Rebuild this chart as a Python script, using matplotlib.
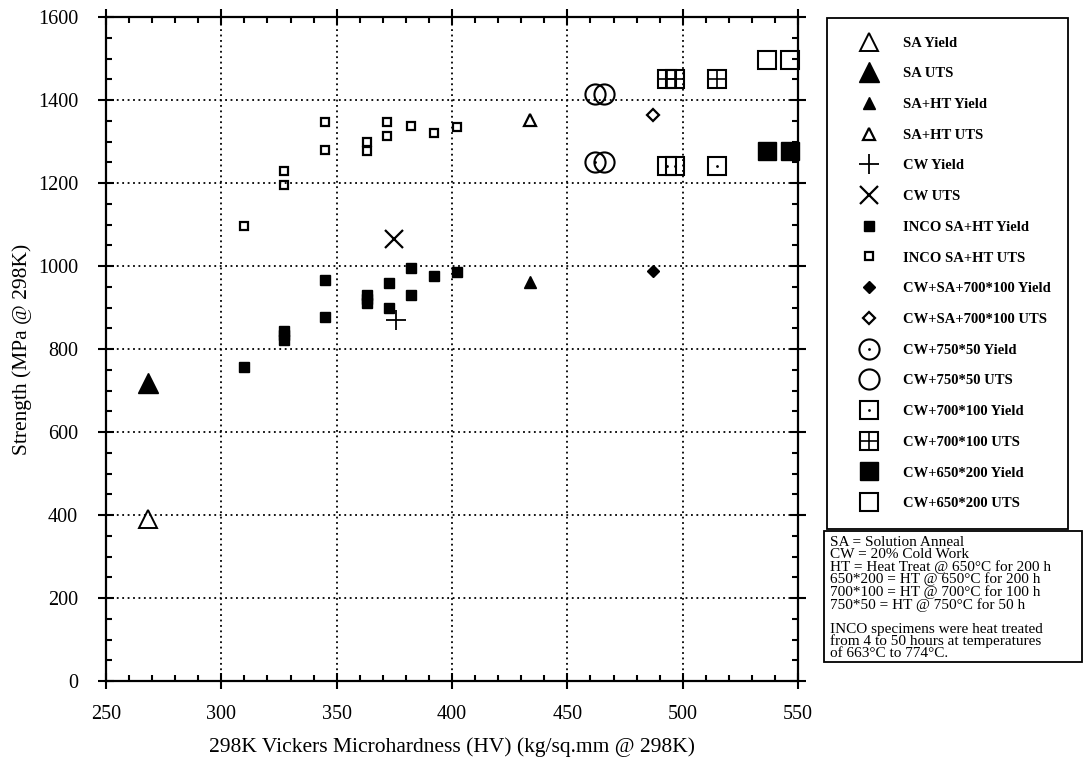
import matplotlib.pyplot as plt
from matplotlib.patches import Rectangle
from matplotlib.ticker import MultipleLocator

plt.rcParams['font.family'] = ['Liberation Serif', 'DejaVu Serif']

# hardness (HV) and strength (MPa)
sa_yield_hv = [268]
sa_yield_mpa = [390]
sa_uts_hv = [268]
sa_uts_mpa = [717]
saht_yield_hv = [434]
saht_yield_mpa = [961]
saht_uts_hv = [434]
saht_uts_mpa = [1353]
cw_yield_hv = [375.5]
cw_yield_mpa = [869]
cw_uts_hv = [375]
cw_uts_mpa = [1066]
inco_yield_hv = [310, 327, 327, 327, 345, 345, 363, 363, 363, 372.5, 372.5, 382, 382, 392, 402]
inco_yield_mpa = [756, 822, 833, 844, 878, 966, 910, 920, 931, 900, 959, 929, 995, 977, 986]
inco_uts_hv = [310, 327, 327, 345, 345, 363, 363, 372, 372, 382, 392, 402]
inco_uts_mpa = [1097, 1196, 1229, 1280, 1346, 1278, 1298, 1314, 1346, 1338, 1320, 1334]
cwsa_yield_hv = [487]
cwsa_yield_mpa = [987]
cwsa_uts_hv = [487]
cwsa_uts_mpa = [1365]
cw750_yield_hv = [462, 466]
cw750_yield_mpa = [1250, 1250]
cw750_uts_hv = [462, 466]
cw750_uts_mpa = [1414, 1414]
cw700_yield_hv = [493, 496.5, 515]
cw700_yield_mpa = [1242, 1242, 1242]
cw700_uts_hv = [493, 496.5, 515]
cw700_uts_mpa = [1451, 1451, 1451]
cw650_yield_hv = [536.5, 546.5]
cw650_yield_mpa = [1278, 1278]
cw650_uts_hv = [536.5, 546.5]
cw650_uts_mpa = [1497, 1497]

labels = ['SA Yield', 'SA UTS', 'SA+HT Yield', 'SA+HT UTS', 'CW Yield', 'CW UTS',
          'INCO SA+HT Yield', 'INCO SA+HT UTS', 'CW+SA+700*100 Yield',
          'CW+SA+700*100 UTS', 'CW+750*50 Yield', 'CW+750*50 UTS',
          'CW+700*100 Yield', 'CW+700*100 UTS', 'CW+650*200 Yield', 'CW+650*200 UTS']

notes = ('SA = Solution Anneal\n'
         'CW = 20% Cold Work\n'
         'HT = Heat Treat @ 650°C for 200 h\n'
         '650*200 = HT @ 650°C for 200 h\n'
         '700*100 = HT @ 700°C for 100 h\n'
         '750*50 = HT @ 750°C for 50 h\n'
         '\n'
         'INCO specimens were heat treated\n'
         'from 4 to 50 hours at temperatures\n'
         'of 663°C to 774°C.')

fig = plt.figure(figsize=(10.84, 7.61), dpi=100)
ax = fig.add_axes([0.0978, 0.1051, 0.6384, 0.8725])


def pts(x, y, **kw):
    line, = ax.plot(x, y, linestyle='none', color='black', clip_on=False, **kw)
    return line


OPEN = dict(markerfacecolor='none', markeredgecolor='black')

h = []
h.append(pts(sa_yield_hv, sa_yield_mpa, marker='^', markersize=13, mew=1.4, **OPEN))
h.append(pts(sa_uts_hv, sa_uts_mpa, marker='^', markersize=14))
h.append(pts(saht_yield_hv, saht_yield_mpa, marker='^', markersize=9))
h.append(pts(saht_uts_hv, saht_uts_mpa, marker='^', markersize=8.5, mew=1.6, **OPEN))
h.append(pts(cw_yield_hv, cw_yield_mpa, marker='+', markersize=14, mew=1.3))
h.append(pts(cw_uts_hv, cw_uts_mpa, marker='x', markersize=13, mew=1.6))
h.append(pts(inco_yield_hv, inco_yield_mpa, marker='s', markersize=6.5))
h.append(pts(inco_uts_hv, inco_uts_mpa, marker='s', markersize=6, mew=1.6, **OPEN))
h.append(pts(cwsa_yield_hv, cwsa_yield_mpa, marker='D', markersize=6.5))
h.append(pts(cwsa_uts_hv, cwsa_uts_mpa, marker='D', markersize=6, mew=1.6, **OPEN))
circ_y = pts(cw750_yield_hv, cw750_yield_mpa, marker='o', markersize=14.5, mew=1.5, **OPEN)
dot_c = pts(cw750_yield_hv[:1], cw750_yield_mpa[:1], marker='.', markersize=2)
h.append((circ_y, dot_c))
h.append(pts(cw750_uts_hv, cw750_uts_mpa, marker='o', markersize=14.5, mew=1.5, **OPEN))
sq_y = pts(cw700_yield_hv, cw700_yield_mpa, marker='s', markersize=13.5, mew=1.5, **OPEN)
dot_s = pts(cw700_yield_hv, cw700_yield_mpa, marker='.', markersize=2)
h.append((sq_y, dot_s))
sq_u = pts(cw700_uts_hv, cw700_uts_mpa, marker='s', markersize=13.5, mew=1.5, **OPEN)
cross_u = pts(cw700_uts_hv, cw700_uts_mpa, marker='+', markersize=13.5, mew=1.2)
h.append((sq_u, cross_u))
h.append(pts(cw650_yield_hv, cw650_yield_mpa, marker='s', markersize=13))
h.append(pts(cw650_uts_hv, cw650_uts_mpa, marker='s', markersize=13, mew=1.5, **OPEN))

ax.set_xlim(250, 550)
ax.set_ylim(0, 1600)
ax.xaxis.set_major_locator(MultipleLocator(50))
ax.xaxis.set_minor_locator(MultipleLocator(10))
ax.yaxis.set_major_locator(MultipleLocator(200))
ax.yaxis.set_minor_locator(MultipleLocator(50))
ax.tick_params(which='both', top=True, right=True, width=1.5)
ax.tick_params(which='major', direction='inout', length=11, labelsize=14.5)
ax.tick_params(which='minor', direction='in', length=4.5)
ax.tick_params(axis='x', which='major', pad=12)
ax.tick_params(axis='y', which='major', pad=14.5)
for s in ax.spines.values():
    s.set_linewidth(1.6)
ax.set_axisbelow(True)
ax.grid(which='major', color='black', linestyle=(0, (1, 2)), linewidth=1.3)

ax.set_xlabel('298K Vickers Microhardness (HV) (kg/sq.mm @ 298K)', fontsize=15.5, labelpad=9)
ax.set_ylabel('Strength (MPa @ 298K)', fontsize=15.5, labelpad=4)

leg = ax.legend(h, labels, loc='upper left', mode='expand',
                bbox_to_anchor=(0.763, 0.30, 0.2223, 0.6763),
                bbox_transform=fig.transFigure, borderaxespad=0,
                prop={'weight': 'bold', 'size': 10.5}, frameon=True,
                fancybox=False, framealpha=1, edgecolor='black',
                borderpad=1.26, handlelength=3.23, handletextpad=0.71,
                labelspacing=1.2, numpoints=1)
leg.get_frame().set_linewidth(1.3)

# notes box under the legend
fig.patches.append(Rectangle((0.7601, 0.130), 0.238, 0.1721, transform=fig.transFigure,
                             fill=False, edgecolor='black', linewidth=1.3))
fig.text(0.7657, 0.2957, notes, fontsize=11, va='top', ha='left', linespacing=0.9)

fig.savefig('out.png', dpi=100)
